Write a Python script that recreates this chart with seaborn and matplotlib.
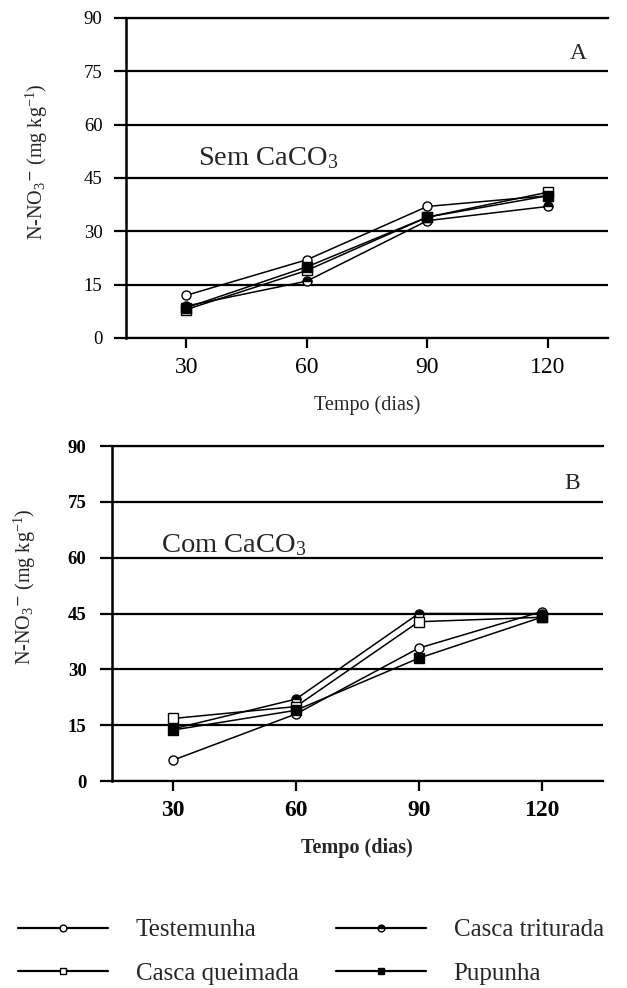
import matplotlib
matplotlib.use('Agg')
import matplotlib.pyplot as plt
import pandas as pd
import seaborn as sns

# dias de incubacao
days = [30, 60, 90, 120]
treatments = ['Testemunha', 'Casca triturada', 'Casca queimada', 'Pupunha']

# N-NO3- sem CaCO3 (painel A)
sem_testemunha = [12, 22, 37, 40]
sem_triturada = [9, 16, 33, 37]
sem_queimada = [8, 19, 34, 41]
sem_pupunha = [8.5, 20, 34, 40]

# N-NO3- com CaCO3 (painel B)
com_testemunha = [5.6, 18, 35.7, 45.5]
com_triturada = [14, 22, 45, 45]
com_queimada = [16.8, 20, 42.8, 44]
com_pupunha = [13.7, 19, 33, 44]

y_ticks = [0, 15, 30, 45, 60, 75, 90]

# marker style for each treatment
styles = {
    'Testemunha': dict(marker='o', markerfacecolor='white'),
    'Casca triturada': dict(marker='o', fillstyle='top', markerfacecolor='black',
                            markerfacecoloralt='white'),
    'Casca queimada': dict(marker='s', markerfacecolor='white'),
    'Pupunha': dict(marker='s', markerfacecolor='black'),
}


def make_df(values):
    rows = []
    for name, vals in zip(treatments, values):
        for d, v in zip(days, vals):
            rows.append({'dias': d, 'no3': v, 'trat': name})
    return pd.DataFrame(rows)


sns.set_theme(style='ticks')
plt.rcParams['font.family'] = ['Liberation Serif', 'DejaVu Serif']
plt.rcParams['mathtext.fontset'] = 'custom'
plt.rcParams['mathtext.rm'] = 'Liberation Serif'
plt.rcParams['mathtext.it'] = 'Liberation Serif:italic'

df_sem = make_df([sem_testemunha, sem_triturada, sem_queimada, sem_pupunha])
df_com = make_df([com_testemunha, com_triturada, com_queimada, com_pupunha])

fig = plt.figure(figsize=(6.27, 9.88), dpi=100)
ax_a = fig.add_axes([0.201, 0.6579, 0.769, 0.3239])
ax_b = fig.add_axes([0.178, 0.2095, 0.7836, 0.339])

ylab = r'N-NO$_3$$^{\mathsf{-}}$ (mg kg$^{-1}$)'


def draw_panel(ax, df, letter, note, note_xy, bold, ylab_xy, ytick_pad):
    for name in treatments:
        sub = df[df['trat'] == name]
        sns.lineplot(data=sub, x='dias', y='no3', ax=ax, color='black', lw=1.1,
                     markersize=6.5, markeredgecolor='black', markeredgewidth=1.0,
                     label=name, legend=False, **styles[name])
    ax.set_xlim(15, 135)
    ax.set_ylim(0, 90)
    ax.set_xticks(days)
    ax.set_yticks(y_ticks)
    ax.yaxis.grid(True, color='black', lw=1.6)
    ax.set_axisbelow(True)
    for side in ['top', 'bottom']:
        ax.spines[side].set_color('black')
        ax.spines[side].set_linewidth(1.6)
    ax.spines['left'].set_linewidth(1.8)
    ax.spines['left'].set_color('black')
    ax.spines['right'].set_visible(False)
    weight = 'bold' if bold else 'normal'
    ax.tick_params(axis='y', length=9, width=1.6, pad=ytick_pad, labelsize=13.5,
                   color='black', labelcolor='black')
    ax.tick_params(axis='x', length=7, width=1.6, pad=7, labelsize=17,
                   color='black', labelcolor='black')
    for lab in ax.get_xticklabels() + ax.get_yticklabels():
        lab.set_fontweight(weight)
    ax.set_xlabel('Tempo (dias)', fontsize=14.5, fontweight=weight, labelpad=12)
    ax.set_ylabel(ylab, fontsize=14.5)
    ax.yaxis.set_label_coords(*ylab_xy)
    ax.text(127.5, 80, letter, fontsize=17, ha='center', va='center')
    ax.text(note_xy[0], note_xy[1], note, fontsize=20.5, ha='left', va='center')


draw_panel(ax_a, df_sem, 'A', r'Sem CaCO$_3$', (33, 50.5), False, (-0.158, 0.55), 8)
draw_panel(ax_b, df_com, 'B', r'Com CaCO$_3$', (27, 63.5), True, (-0.15, 0.58), 9)

handles, labels = ax_b.get_legend_handles_labels()
order = [0, 2, 1, 3]
leg = fig.legend([handles[i] for i in order], [labels[i] for i in order],
                 loc='upper left', bbox_to_anchor=(0.029, 0.070), ncol=2,
                 frameon=False, fontsize=18, handlelength=3.6, handletextpad=1.1,
                 columnspacing=1.5, labelspacing=0.85, borderpad=0,
                 borderaxespad=0, markerscale=0.75)
for line in leg.get_lines():
    line.set_linewidth(1.6)

fig.savefig('out.png', dpi=100)
